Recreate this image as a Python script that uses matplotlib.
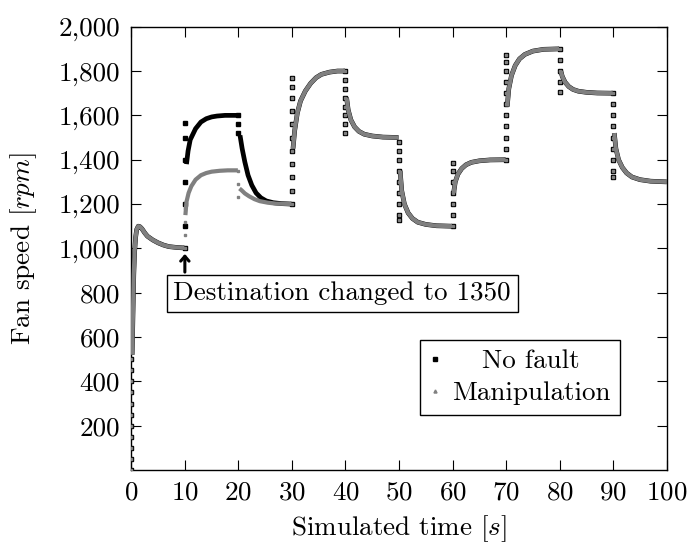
import numpy as np
import matplotlib
matplotlib.use("Agg")
import matplotlib.pyplot as plt
from matplotlib.lines import Line2D
from matplotlib.ticker import FuncFormatter

plt.rcParams['font.family'] = ['cmr10', 'DejaVu Serif']
plt.rcParams['mathtext.fontset'] = 'cm'
plt.rcParams['axes.unicode_minus'] = False
plt.rcParams['axes.formatter.use_mathtext'] = True

nan = np.nan

# 0-10 s, identical in both runs (spin-up to 1000 rpm)
time_start = [0.15, 0.3, 0.45, 0.6, 0.8, 1.0, 1.3, 1.6, 2.0, 2.5, 3.0, 4.0, 5.0, 6.0, 7.0, 8.5, 9.9]
rpm_start = [520, 700, 880, 980, 1050, 1085, 1100, 1098, 1088, 1070, 1055, 1038, 1025, 1015, 1008, 1004, 1002]

# 10-30 s, no fault (setpoint 1600 then 1200)
time_nofault_mid = [10.3, 10.6, 11, 12, 13, 14, 15, 16, 17.5, 19.9, nan,
                    20.3, 20.7, 21.2, 21.8, 22.5, 23.3, 24.2, 25.2, 26.5, 28, 29.9]
rpm_nofault_mid = [1380, 1440, 1490, 1540, 1570, 1585, 1593, 1597, 1600, 1600, nan,
                   1510, 1450, 1390, 1330, 1285, 1250, 1228, 1214, 1206, 1202, 1200]

# 10-30 s, manipulated destination (1350 then 1200)
time_manip_mid = [10.1, 10.3, 10.7, 11.2, 12, 13, 14, 15, 16.5, 18, 19.9, nan,
                  20.2, 20.6, 21.2, 22, 23, 24, 25.5, 27, 29.9]
rpm_manip_mid = [1150, 1210, 1250, 1280, 1310, 1330, 1340, 1346, 1350, 1352, 1352, nan,
                 1270, 1262, 1248, 1235, 1222, 1213, 1206, 1202, 1200]

# 30-100 s, identical in both runs
time_end = [30.2, 30.5, 31, 31.6, 32.5, 33.5, 34.5, 35.5, 37, 38.5, 39.9, nan,
            40.2, 40.5, 41, 41.7, 42.5, 43.5, 45, 47, 49.9, nan,
            50.2, 50.5, 51, 51.7, 52.5, 53.5, 55, 57, 59.9, nan,
            60.2, 60.5, 61, 61.7, 62.5, 63.5, 65, 67, 69.9, nan,
            70.2, 70.5, 71, 71.7, 72.5, 73.5, 75, 77, 79.9, nan,
            80.2, 80.5, 81, 81.7, 82.5, 83.5, 85, 87, 89.9, nan,
            90.2, 90.5, 91, 91.7, 92.5, 93.5, 95, 97, 100]
rpm_end = [1450, 1530, 1610, 1665, 1710, 1745, 1770, 1785, 1795, 1800, 1800, nan,
           1680, 1625, 1580, 1548, 1528, 1515, 1507, 1502, 1500, nan,
           1350, 1260, 1200, 1160, 1135, 1118, 1108, 1102, 1100, nan,
           1250, 1300, 1335, 1360, 1377, 1388, 1395, 1399, 1400, nan,
           1640, 1720, 1780, 1825, 1855, 1875, 1890, 1898, 1900, nan,
           1800, 1775, 1750, 1730, 1717, 1709, 1704, 1701, 1700, nan,
           1520, 1450, 1400, 1365, 1340, 1322, 1310, 1303, 1300]

# fast transients right at the setpoint changes (markers only)
spike_time = [0] * 11 + [30] * 11 + [40] * 8 + [50] * 9 + [60] * 7 + [70] * 11 + [80] * 5 + [90] * 9
spike_rpm = [0, 50, 100, 150, 200, 250, 300, 350, 400, 450, 500,
             1200, 1260, 1320, 1380, 1440, 1500, 1560, 1620, 1680, 1730, 1768,
             1800, 1760, 1720, 1680, 1640, 1600, 1560, 1520,
             1481, 1440, 1400, 1350, 1300, 1250, 1200, 1150, 1128,
             1100, 1150, 1200, 1250, 1300, 1350, 1385,
             1400, 1450, 1500, 1550, 1600, 1650, 1700, 1750, 1800, 1840, 1872,
             1900, 1850, 1800, 1750, 1706,
             1700, 1650, 1600, 1550, 1500, 1450, 1400, 1350, 1323]
spike_time_nofault = [10] * 7 + [20] * 3
spike_rpm_nofault = [1000, 1100, 1200, 1300, 1400, 1500, 1565, 1600, 1560, 1520]
spike_time_manip = [10] * 4 + [20] * 3
spike_rpm_manip = [1000, 1060, 1120, 1180, 1350, 1290, 1230]

xticks = list(range(0, 101, 10))
yticks = list(range(200, 2001, 200))

gray = '#808080'
fs = 19.5

fig = plt.figure(figsize=(6.89, 5.43), dpi=100)
ax = fig.add_axes([0.1906, 0.1344, 0.7771, 0.8164])

def join(*parts):
    out = []
    for p in parts:
        if out:
            out.append(nan)
        out.extend(p)
    return np.array(out, dtype=float)

t_nf = join(time_start, time_nofault_mid, time_end)
v_nf = join(rpm_start, rpm_nofault_mid, rpm_end)
t_mp = join(time_start, time_manip_mid, time_end)
v_mp = join(rpm_start, rpm_manip_mid, rpm_end)

# no fault (black) underneath
ax.plot(t_nf, v_nf, color='black', lw=3.4, solid_capstyle='butt', zorder=2)
ax.plot(spike_time + spike_time_nofault, spike_rpm + spike_rpm_nofault, ls='none',
        marker='s', ms=3.2, color='black', zorder=2)
# manipulation (gray) on top
ax.plot(t_mp, v_mp, color=gray, lw=3.0, solid_capstyle='butt', zorder=3)
ax.plot(spike_time + spike_time_manip, spike_rpm + spike_rpm_manip, ls='none',
        marker='s', ms=1.8, color=gray, zorder=3)

ax.set_xlim(0, 100)
ax.set_ylim(0, 2000)
ax.set_xticks(xticks)
ax.set_yticks(yticks)
ax.yaxis.set_major_formatter(FuncFormatter(lambda v, p: f'{v:,.0f}'))
ax.tick_params(direction='in', top=True, right=True, length=7, width=0.8,
               labelsize=fs, pad=8)
for s in ax.spines.values():
    s.set_linewidth(1.0)

ax.set_xlabel('Simulated time $[s]$', fontsize=fs, labelpad=6)
ax.set_ylabel('Fan speed $[rpm]$', fontsize=fs, labelpad=14)

# annotation box and vertical arrow at the setpoint change
ax.text(39.4, 798, 'Destination changed to 1350', fontsize=fs, ha='center',
        va='center', zorder=5,
        bbox=dict(boxstyle='square,pad=0.25', fc='white', ec='black', lw=1.0))
ax.annotate('', xy=(10, 975), xytext=(10, 893),
            arrowprops=dict(arrowstyle='->,head_width=0.3,head_length=0.35',
                            lw=2.2, color='black', shrinkA=0, shrinkB=0),
            zorder=5)

handles = [Line2D([], [], ls='none', marker='s', ms=3.2, color='black'),
           Line2D([], [], ls='none', marker='^', ms=2.2, color=gray)]
leg = ax.legend(handles, ['No fault', 'Manipulation'], loc='upper left',
                bbox_to_anchor=(0.54, 0.294), borderaxespad=0, fontsize=fs,
                frameon=True, fancybox=False, edgecolor='black', framealpha=1,
                handlelength=0.4, handletextpad=0.4, borderpad=0.35,
                labelspacing=0.3)
leg.get_frame().set_linewidth(1.0)

# centre the legend texts as in the original
fig.canvas.draw()
renderer = fig.canvas.get_renderer()
widths = [t.get_window_extent(renderer).width for t in leg.get_texts()]
wmax = max(widths)
for t, w in zip(leg.get_texts(), widths):
    t.set_position(((wmax - w) / 2, 0))

fig.savefig('out.png', dpi=100)
